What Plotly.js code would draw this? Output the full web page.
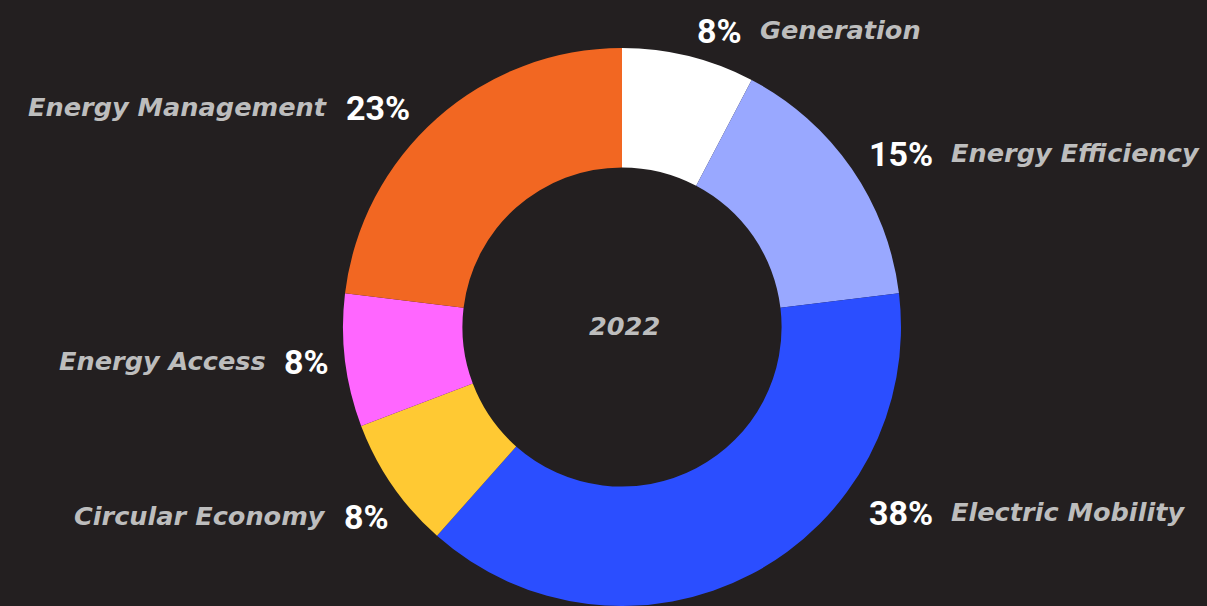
<!DOCTYPE html>
<html>
<head>
<meta charset="utf-8">
<script src="https://cdn.plot.ly/plotly-3.0.1.min.js"></script>
<style>html,body{margin:0;padding:0;background:#231f20;}#chart{width:1207px;height:606px;}</style>
</head>
<body>
<div id="chart"></div>
<script>
const categories = ["Generation", "Energy Efficiency", "Electric Mobility", "Circular Economy", "Energy Access", "Energy Management"];
const counts = [1, 2, 5, 1, 1, 3];
const colors = ["#ffffff", "#99a8ff", "#2b4eff", "#ffc933", "#ff66ff", "#f26722"];
const centerLabel = "2022";

// label placement (pixel anchors of text), side: 'R' => "pct name", 'L' => "name pct"
const labelPos = [
  {x: 744, y: 31, side: 'R'},
  {x: 935, y: 154, side: 'R'},
  {x: 935, y: 513, side: 'R'},
  {x: 328, y: 517, side: 'L'},
  {x: 268, y: 362, side: 'L'},
  {x: 330, y: 108, side: 'L'}
];

const W = 1207, H = 606;
const total = counts.reduce((a, b) => a + b, 0);
const px = x => x / W, py = y => 1 - y / H;
const pctFont = {family: "Roboto, sans-serif", size: 34, color: "#ffffff", weight: 700};
const nameFont = {family: "DejaVu Sans, sans-serif", size: 25.6, color: "#bdbdbd", weight: 700, style: "italic"};

const annotations = [];
categories.forEach((c, i) => {
  const p = labelPos[i];
  const pct = Math.round(counts[i] / total * 100) + "%";
  if (p.side === 'R') {
    annotations.push({x: px(p.x), y: py(p.y), xref: 'paper', yref: 'paper', text: pct, showarrow: false, xanchor: 'right', yanchor: 'middle', font: pctFont});
    annotations.push({x: px(p.x + 14), y: py(p.y - 1), xref: 'paper', yref: 'paper', text: c, showarrow: false, xanchor: 'left', yanchor: 'middle', font: nameFont});
  } else {
    annotations.push({x: px(p.x), y: py(p.y - 1), xref: 'paper', yref: 'paper', text: c, showarrow: false, xanchor: 'right', yanchor: 'middle', font: nameFont});
    annotations.push({x: px(p.x + 14), y: py(p.y), xref: 'paper', yref: 'paper', text: pct, showarrow: false, xanchor: 'left', yanchor: 'middle', font: pctFont});
  }
});
annotations.push({x: px(624), y: py(326), xref: 'paper', yref: 'paper', text: centerLabel, showarrow: false, xanchor: 'center', yanchor: 'middle', font: nameFont});

const cx = 622, cy = 327, r = 279;
const data = [{
  type: 'pie',
  labels: categories,
  values: counts,
  hole: 0.572,
  sort: false,
  direction: 'clockwise',
  rotation: 0,
  marker: {colors: colors, line: {width: 0}},
  textinfo: 'none',
  hoverinfo: 'label+percent',
  showlegend: false,
  domain: {x: [px(cx - r), px(cx + r)], y: [1 - (cy + r) / H, 1 - (cy - r) / H]}
}];

const layout = {
  width: W, height: H,
  margin: {l: 0, r: 0, t: 0, b: 0},
  paper_bgcolor: '#231f20',
  plot_bgcolor: '#231f20',
  showlegend: false,
  annotations: annotations
};

Plotly.newPlot('chart', data, layout, {displayModeBar: false, staticPlot: true});
</script>
</body>
</html>
